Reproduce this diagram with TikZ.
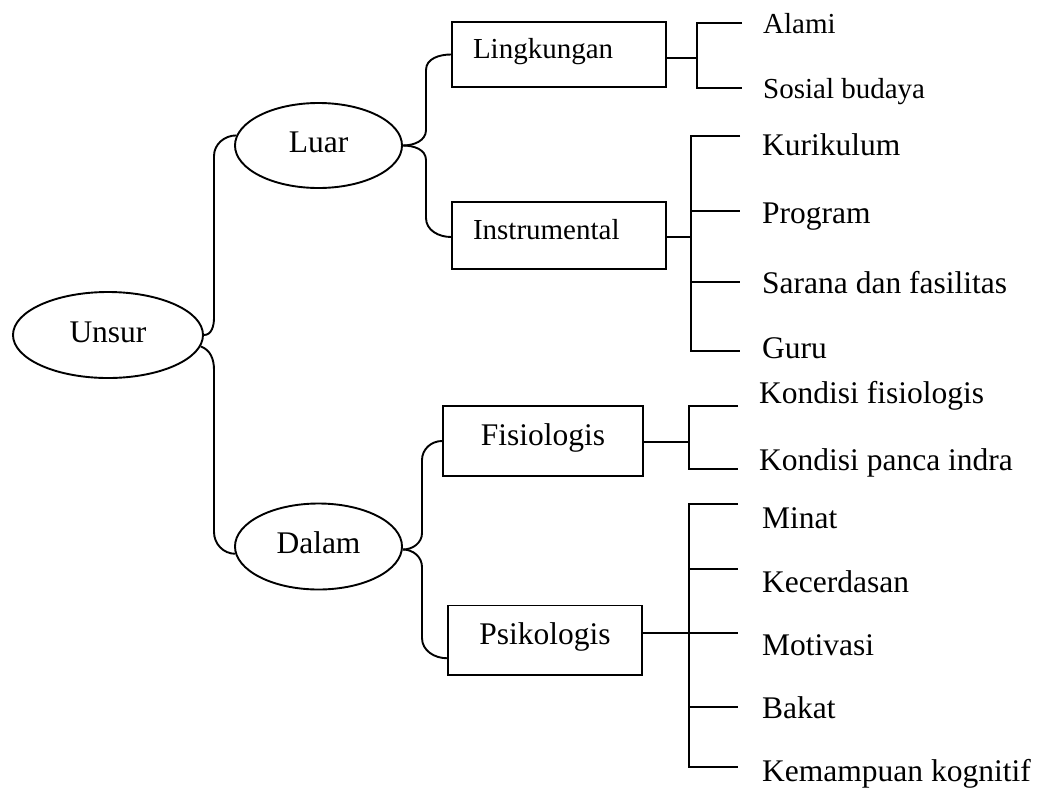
\documentclass[tikz,border=0pt]{standalone}
\usepackage{fontspec}
\setmainfont{Liberation Serif}
\usetikzlibrary{shapes.geometric}
\begin{document}
\begin{tikzpicture}[x=1pt,y=-1pt,
  conn/.style={line width=1.9pt},
  bigtxt/.style={font=\fontsize{31.5}{36}\selectfont},
  smalltxt/.style={font=\fontsize{29}{34}\selectfont},
  ell/.style={draw, ellipse, line width=1.9pt, inner sep=0pt, bigtxt, text height=20pt, text depth=6pt},
  box/.style={draw, rectangle, line width=1.9pt, inner sep=0pt, text height=18pt, text depth=10pt},
  leafbig/.style={anchor=base west, inner sep=0pt, bigtxt},
  leafsmall/.style={anchor=base west, inner sep=0pt, smalltxt}]
\useasboundingbox (0,0) rectangle (1040,787);

% main nodes
\node[ell, minimum width=190pt, minimum height=86pt] (unsur) at (108,335) {Unsur};
\node[ell, minimum width=167pt, minimum height=85pt] (luar) at (318.5,145.5) {Luar};
\node[ell, minimum width=167pt, minimum height=86pt] (dalam) at (318.5,546.5) {Dalam};

\node[box, smalltxt, text width=172pt, inner xsep=21pt, align=left, minimum height=65pt] (ling) at (559,54.5) {Lingkungan};
\node[box, smalltxt, text width=172pt, inner xsep=21pt, align=left, minimum height=67pt] (inst) at (559,235.5) {Instrumental};
\node[box, bigtxt, minimum width=200pt, minimum height=70pt] (fis) at (543,441) {Fisiologis};
\node[box, bigtxt, minimum width=194pt, minimum height=69.5pt] (psi) at (545,640.25) {Psikologis};

% leaves
\node[leafsmall] (alami) at (763,33) {Alami};
\node[leafsmall] (sosial) at (763,98) {Sosial budaya};
\node[leafbig] (kur) at (762,155) {Kurikulum};
\node[leafbig] (prog) at (762,223) {Program};
\node[leafbig] (sarana) at (762,293) {Sarana dan fasilitas};
\node[leafbig] (guru) at (762,358) {Guru};
\node[leafbig] (kfis) at (759,403) {Kondisi fisiologis};
\node[leafbig] (kpanca) at (759,470) {Kondisi panca indra};
\node[leafbig] (minat) at (762,528) {Minat};
\node[leafbig] (kecer) at (762,592) {Kecerdasan};
\node[leafbig] (moti) at (762,655) {Motivasi};
\node[leafbig] (bakat) at (762,718) {Bakat};
\node[leafbig] (kemam) at (762,781) {Kemampuan kognitif};

% brace connectors
\coordinate (c1a) at (214,318);
\coordinate (c1b) at (214,156);
\coordinate (c2a) at (214,370);
\coordinate (c2b) at (214,532);
\coordinate (c3a) at (426,130);
\coordinate (c3b) at (426,70);
\coordinate (c4a) at (426,160);
\coordinate (c4b) at (426,218);
\coordinate (c5a) at (422,533);
\coordinate (c5b) at (422,460);
\coordinate (c6a) at (422,567);
\coordinate (c6b) at (422,638);

\draw[conn] (unsur.east) to[out=0,in=-90] (c1a) -- (c1b) to[out=90,in=180] (luar.173);
\draw[conn] (unsur.-7) to[out=-20,in=90] (c2a) -- (c2b) to[out=-90,in=180] (dalam.185);
\draw[conn] (luar.east) to[out=0,in=-90] (c3a) -- (c3b) to[out=90,in=180] (ling.west);
\draw[conn] (luar.east) to[out=0,in=90] (c4a) -- (c4b) to[out=-90,in=180] ([yshift=-1.5pt]inst.west);
\draw[conn] ([yshift=-3pt]dalam.east) to[out=0,in=-90] (c5a) -- (c5b) to[out=90,in=180] (fis.west);
\draw[conn] ([yshift=-3pt]dalam.east) to[out=0,in=90] (c6a) -- (c6b) to[out=-90,in=180] ([yshift=-18pt]psi.west);

% bracket spines
\coordinate (sL) at (697,0);
\coordinate (sI) at (691,0);
\coordinate (sF) at (689,0);
\coordinate (sP) at (689,0);

% stub ends
\coordinate (eAlami) at (742,23);
\coordinate (eSosial) at (742,88);
\coordinate (eKur) at (740,136);
\coordinate (eProg) at (740,211);
\coordinate (eSar) at (740,282);
\coordinate (eGuru) at (740,351);
\coordinate (eKfis) at (738,406);
\coordinate (eKpan) at (738,469);
\coordinate (eMin) at (738,504);
\coordinate (eKec) at (738,569);
\coordinate (eMot) at (738,633);
\coordinate (eBak) at (738,707);
\coordinate (eKem) at (738,767);

% Lingkungan bracket
\draw[conn] ([yshift=-3.5pt]ling.east) -- ([yshift=-3.5pt]ling.east -| sL);
\draw[conn] (eAlami) -- (eAlami -| sL) -- (eSosial -| sL) -- (eSosial);

% Instrumental bracket
\draw[conn] ([yshift=-1.5pt]inst.east) -- ([yshift=-1.5pt]inst.east -| sI);
\draw[conn] (eKur) -- (eKur -| sI) -- (eGuru -| sI) -- (eGuru);
\draw[conn] (eProg -| sI) -- (eProg);
\draw[conn] (eSar -| sI) -- (eSar);

% Fisiologis bracket
\draw[conn] ([yshift=-1pt]fis.east) -- ([yshift=-1pt]fis.east -| sF);
\draw[conn] (eKfis) -- (eKfis -| sF) -- (eKpan -| sF) -- (eKpan);

% Psikologis bracket
\draw[conn] (psi.east |- eMot) -- (eMot);
\draw[conn] (eMin) -- (eMin -| sP) -- (eKem -| sP) -- (eKem);
\draw[conn] (eKec -| sP) -- (eKec);
\draw[conn] (eBak -| sP) -- (eBak);
\end{tikzpicture}
\end{document}
